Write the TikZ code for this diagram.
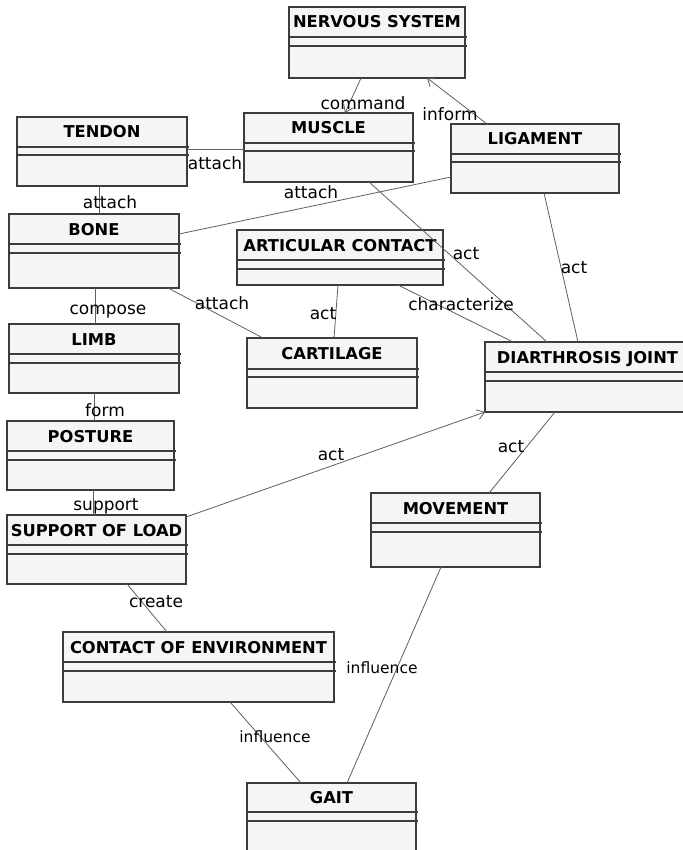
\documentclass[tikz,border=0pt]{standalone}
\usepackage{fontspec}
\setmainfont{DejaVu Sans}
\usetikzlibrary{arrows.meta}
\definecolor{boxfill}{RGB}{245,245,245}
\definecolor{boxline}{RGB}{60,60,60}
\definecolor{connline}{RGB}{95,95,95}
\tikzset{
  cls/.style={draw=boxline, fill=boxfill, line width=1.1pt, inner sep=0pt, outer sep=0pt},
  sepline/.style={draw=boxline, line width=1.1pt},
  ctitle/.style={font=\fontsize{16.3}{18}\selectfont\bfseries, text=black, inner sep=0pt, anchor=base},
  conn/.style={draw=connline, line width=0.8pt},
  arr/.style={-{Straight Barb[length=7pt,width=10pt]}},
  lbl/.style={font=\fontsize{17}{19}\selectfont, text=black, inner sep=0pt, anchor=base},
  slbl/.style={font=\fontsize{15.5}{17}\selectfont, text=black, inner sep=0pt, anchor=base}
}
% name, x1, y1, x2, y2, line1, line2, title
\newcommand\umlclass[8]{%
  \node[cls, anchor=north west, minimum width={(#4-#2)*1pt}, minimum height={(#5-#3)*1pt}] (#1) at (#2,#3) {};
  \draw[sepline] (#2,#6) -- (#4+2,#6) (#2,#7) -- (#4+2,#7);
  \node[ctitle] (#1-t) at ({(#2+#4)/2},{(#3+#6)/2+6}) {#8};
}
\begin{document}
\begin{tikzpicture}[x=1pt,y=-1pt]
\useasboundingbox[fill=white] (0,0) rectangle (682,850);

\umlclass{ns}{289}{7}{465}{78}{37}{46}{NERVOUS SYSTEM}
\umlclass{tendon}{17}{117}{187}{186}{147}{155}{TENDON}
\umlclass{muscle}{244}{113}{413}{182}{143}{151}{MUSCLE}
\umlclass{lig}{451}{124}{619}{193}{154}{162}{LIGAMENT}
\umlclass{bone}{9}{214}{179}{288}{244}{253}{BONE}
\umlclass{limb}{9}{324}{179}{393}{354}{363}{LIMB}
\umlclass{ac}{237}{230}{443}{285}{260}{269}{ARTICULAR CONTACT}
\umlclass{cart}{247}{338}{417}{408}{369}{377}{CARTILAGE}
\umlclass{dj}{485}{342}{690}{412}{372}{381}{DIARTHROSIS JOINT}
\umlclass{posture}{7}{421}{174}{490}{451}{460}{POSTURE}
\umlclass{sol}{7}{515}{186}{584}{545}{554}{SUPPORT OF LOAD}
\umlclass{mov}{371}{493}{540}{567}{523}{532}{MOVEMENT}
\umlclass{coe}{63}{632}{334}{702}{662}{671}{CONTACT OF ENVIRONMENT}
\umlclass{gait}{247}{783}{416}{855}{812}{821}{GAIT}

% connectors
\draw[conn, arr] ([xshift=72pt]ns.south west) -- ([xshift=101pt]muscle.north west)
  node[lbl] at (363,110) {command};
\draw[conn, arr] ([xshift=36pt]lig.north west) -- ([xshift=138pt]ns.south west)
  node[lbl] at (450,121) {inform};
\draw[conn] ([yshift=-32pt]tendon.north east) -- ([yshift=-36pt]muscle.north west)
  node[lbl] at (215,170) {attach};
\draw[conn] ([xshift=82pt]tendon.south west) -- ([xshift=90pt]bone.north west)
  node[lbl] at (110,209) {attach};
\draw[conn] ([yshift=-20pt]bone.north east) -- ([yshift=-53pt]lig.north west)
  node[lbl] at (311,199) {attach};
\draw[conn] ([xshift=125pt]muscle.south west) -- ([xshift=62pt]dj.north west)
  node[lbl] at (466,259) {act};
\draw[conn] ([xshift=93pt]lig.south west) -- ([xshift=93pt]dj.north west)
  node[lbl] at (574,273) {act};
\draw[conn] ([xshift=86pt]bone.south west) -- ([xshift=86pt]limb.north west)
  node[lbl] at (108,314) {compose};
\draw[conn] ([xshift=159pt]bone.south west) -- ([xshift=16pt]cart.north west)
  node[lbl] at (222,309) {attach};
\draw[conn] ([xshift=101pt]ac.south west) -- ([xshift=87pt]cart.north west)
  node[lbl] at (323,319) {act};
\draw[conn] ([xshift=161pt]ac.south west) -- ([xshift=28pt]dj.north west)
  node[lbl] at (461,310) {characterize};
\draw[conn] ([xshift=85pt]limb.south west) -- ([xshift=87pt]posture.north west)
  node[lbl] at (105,416) {form};
\draw[conn] ([xshift=86pt]posture.south west) -- ([xshift=86pt]sol.north west)
  node[lbl] at (106,510) {support};
\draw[conn, arr] ([yshift=-2pt]sol.north east) -- (dj.south west)
  node[lbl] at (331,460) {act};
\draw[conn] ([xshift=70pt]dj.south west) -- ([xshift=118pt]mov.north west)
  node[lbl] at (511,452) {act};
\draw[conn] ([xshift=120pt]sol.south west) -- ([xshift=104pt]coe.north west)
  node[lbl] at (156,607) {create};
\draw[conn] ([xshift=70pt]mov.south west) -- ([xshift=100pt]gait.north west)
  node[slbl] at (382,673) {influence};
\draw[conn] ([xshift=167pt]coe.south west) -- ([xshift=54pt]gait.north west)
  node[slbl] at (275,742) {influence};
\end{tikzpicture}
\end{document}
